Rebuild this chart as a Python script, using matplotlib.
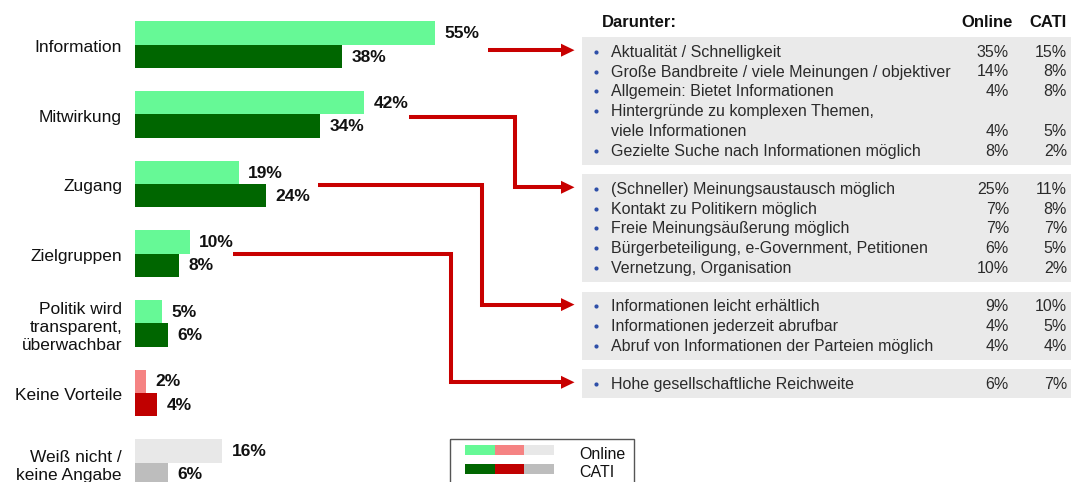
import matplotlib.pyplot as plt
from matplotlib.patches import Rectangle, Polygon

plt.rcParams['font.family'] = ['Liberation Sans', 'DejaVu Sans']

# left bar chart
categories = ['Information', 'Mitwirkung', 'Zugang', 'Zielgruppen',
              'Politik wird\ntransparent,\nüberwachbar', 'Keine Vorteile',
              'Weiß nicht /\nkeine Angabe']
online = [55, 42, 19, 10, 5, 2, 16]
cati = [38, 34, 24, 8, 6, 4, 6]

online_colors = ['#66F996'] * 5 + ['#F58383', '#E8E8E8']
cati_colors = ['#006600'] * 5 + ['#C00000', '#BDBDBD']

# right detail table ("Darunter:")
detail_items = [
    ['Aktualität / Schnelligkeit',
     'Große Bandbreite / viele Meinungen / objektiver',
     'Allgemein: Bietet Informationen',
     'Hintergründe zu komplexen Themen,\nviele Informationen',
     'Gezielte Suche nach Informationen möglich'],
    ['(Schneller) Meinungsaustausch möglich',
     'Kontakt zu Politikern möglich',
     'Freie Meinungsäußerung möglich',
     'Bürgerbeteiligung, e-Government, Petitionen',
     'Vernetzung, Organisation'],
    ['Informationen leicht erhältlich',
     'Informationen jederzeit abrufbar',
     'Abruf von Informationen der Parteien möglich'],
    ['Hohe gesellschaftliche Reichweite'],
]
detail_online = [[35, 14, 4, 4, 8], [25, 7, 7, 6, 10], [9, 4, 4], [6]]
detail_cati = [[15, 8, 8, 5, 2], [11, 8, 7, 5, 2], [10, 5, 4], [7]]

W, H = 1071, 482
fig = plt.figure(figsize=(W / 100, H / 100), dpi=100)

# overlay axes in pixel units for table, arrows, legend
ax0 = fig.add_axes([0, 0, 1, 1])
ax0.set_xlim(0, W)
ax0.set_ylim(H, 0)
ax0.axis('off')

# bar axes: 5.45 px per percent, group spacing 69.65 px
x0, px_per = 135, 5.45
y0, step = 44.7, 69.65
ax = fig.add_axes([x0 / W, 0, 100 * px_per / W, 1])
ax.set_xlim(0, 100)
ax.set_ylim((H - y0) / step, -y0 / step)
ax.patch.set_visible(False)
for s in ax.spines.values():
    s.set_visible(False)
ax.set_xticks([])

bh = 23.3 / step
idx = list(range(len(categories)))
ax.barh([i - bh / 2 for i in idx], online, height=bh, color=online_colors)
ax.barh([i + bh / 2 for i in idx], cati, height=bh, color=cati_colors)
gap = 9.5 / px_per
for i in idx:
    ax.text(online[i] + gap, i - bh / 2 + 0.01, f'{online[i]}%', va='center',
            ha='left', fontsize=12.5, fontweight='bold', color='#111111')
    ax.text(cati[i] + gap, i + bh / 2 + 0.01, f'{cati[i]}%', va='center',
            ha='left', fontsize=12.5, fontweight='bold', color='#111111')

ax.set_yticks([i + 0.02 for i in idx])
ax.set_yticklabels(categories, fontsize=12.5, color='#111111', linespacing=1.22)
ax.tick_params(axis='y', length=0, pad=13 * 0.72)

# table
txt_col = '#2B2B2B'
ax0.text(602, 26.7, 'Darunter:', fontsize=12, fontweight='bold', color='#111111', va='baseline')
ax0.text(1013, 26.7, 'Online', fontsize=12, fontweight='bold', color='#111111', va='baseline', ha='right')
ax0.text(1067, 26.7, 'CATI', fontsize=12, fontweight='bold', color='#111111', va='baseline', ha='right')

line_h, pad_box, box_gap = 19.8, 9.0, 9.3
arrow_red = '#C80000'
arrow_starts = [[(487.7, 50)],
                [(409, 116.7), (515, 116.7)],
                [(318, 185), (481.7, 185)],
                [(233, 254), (450.7, 254)]]
top = 37.3
for g, items in enumerate(detail_items):
    nlines = sum(t.count('\n') + 1 for t in items)
    bheight = nlines * line_h + pad_box
    ax0.add_patch(Rectangle((582, top), W - 582, bheight, color='#EAEAEA', lw=0))
    base = top + 19.4
    first_base = base
    for k, t in enumerate(items):
        n = t.count('\n') + 1
        ax0.scatter([596], [base - 5], s=9, color='#2E4FA8', lw=0, zorder=3)
        for j, line in enumerate(t.split('\n')):
            ax0.text(611, base + j * line_h, line, fontsize=11.5, color=txt_col, va='baseline')
        last = base + (n - 1) * line_h
        ax0.text(1009, last, f'{detail_online[g][k]}%', fontsize=11.5, color=txt_col,
                 va='baseline', ha='right')
        ax0.text(1067, last, f'{detail_cati[g][k]}%', fontsize=11.5, color=txt_col,
                 va='baseline', ha='right')
        base += n * line_h
    # arrow
    ty = first_base - 6.5
    pts = list(arrow_starts[g])
    pts.append((pts[-1][0], ty))
    pts.append((563, ty))
    xs, ys = zip(*pts)
    ax0.plot(xs, ys, color=arrow_red, lw=2.9, solid_joinstyle='miter', solid_capstyle='butt')
    ax0.add_patch(Polygon([(561, ty - 6.5), (574.5, ty), (561, ty + 6.5)],
                          closed=True, color=arrow_red, lw=0))
    top += bheight + box_gap

# legend
legend_labels = ['Online', 'CATI']
ax0.add_patch(Rectangle((450, 439.3), 184, 60, fill=False, edgecolor='#555555', lw=1))
for r, cols in enumerate([[online_colors[0], online_colors[5], online_colors[6]],
                          [cati_colors[0], cati_colors[5], cati_colors[6]]]):
    ytop = 445 + r * 19.3
    for c, col in enumerate(cols):
        ax0.add_patch(Rectangle((465 + c * 29.7, ytop), 29.7, 10, color=col, lw=0))
    ax0.text(579, 459.3 + r * 18, legend_labels[r], fontsize=11.5, color='#111111', va='baseline')

fig.savefig('out.png', dpi=100)
